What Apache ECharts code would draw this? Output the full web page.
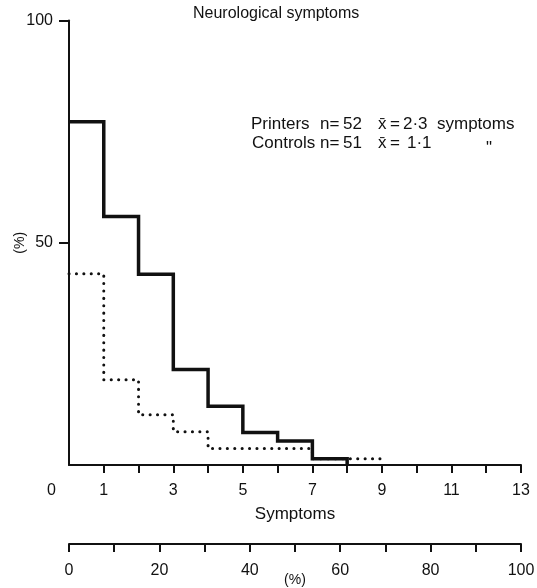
<!DOCTYPE html>
<html>
<head>
<meta charset="utf-8">
<script src="https://cdn.jsdelivr.net/npm/echarts@6/dist/echarts.min.js"></script>
<style>
html,body{margin:0;padding:0;background:#fff;}
#c{width:537px;height:588px;}
</style>
</head>
<body>
<div id="c"></div>
<script>
// ---- data ----
const titleText = 'Neurological symptoms';
const printersX = [0, 1, 2, 3, 4, 5, 6, 7, 8];
const printersY = [77.2, 55.9, 42.9, 21.5, 13.2, 7.3, 5.4, 1.4, 0];
const controlsX = [0, 1, 2, 3, 4, 7, 9];
const controlsY = [43.0, 19.2, 11.3, 7.5, 3.7, 1.4, 1.4];
const symptomTicks = [1,2,3,4,5,6,7,8,9,10,11,12,13];
const symptomLabels = [1,3,5,7,9,11,13];
const yTicks = [50, 100];
const pctTicks = [0,10,20,30,40,50,60,70,80,90,100];
const pctLabels = [0,20,40,60,80,100];
// legend tokens: [text, x] per row
const legendRow1 = [['Printers', 251], ['n=', 320], ['52', 343], ['x\u0304', 378], ['=', 390], ['2\u00B73', 403], ['symptoms', 437]];
const legendRow2 = [['Controls', 252], ['n=', 320], ['51', 343], ['x\u0304', 378], ['=', 390], ['1\u00B71', 407], ['"', 486]];

const FONT = 'Liberation Sans';
const INK = '#111';

const chart = echarts.init(document.getElementById('c'), null, {renderer: 'canvas'});
const axisText = {color: INK, fontFamily: FONT, fontSize: 16};
const f17 = '17px "' + FONT + '"';

const graphics = [
  {type: 'text', left: 193, top: 6, style: {text: titleText, fill: INK, font: '16px "' + FONT + '"'}},
  {type: 'text', left: 47, top: 483, style: {text: '0', fill: INK, font: '16px "' + FONT + '"'}}
];
legendRow1.forEach(t => graphics.push({type: 'text', left: t[1], top: 116, style: {text: t[0], fill: INK, font: f17}}));
legendRow2.forEach(t => graphics.push({type: 'text', left: t[1], top: t[0] === '"' ? 140 : 135, style: {text: t[0], fill: INK, font: f17}}));

chart.setOption({
  animation: false,
  backgroundColor: '#fff',
  grid: {left: 69, right: 16, top: 20.5, bottom: 123, containLabel: false, outerBoundsMode: 'none'},
  xAxis: [{
    type: 'value', min: 0, max: 13, interval: 1,
    axisLine: {show: true, lineStyle: {color: INK, width: 2}},
    axisTick: {show: true, length: 8, lineStyle: {color: INK, width: 2}, customValues: symptomTicks},
    axisLabel: Object.assign({margin: 18, customValues: symptomLabels}, axisText),
    splitLine: {show: false},
    name: 'Symptoms', nameLocation: 'middle', nameGap: 41, nameMoveOverlap: false,
    nameTextStyle: {color: INK, fontFamily: FONT, fontSize: 17}
  }, {
    type: 'value', min: 0, max: 100, interval: 10, position: 'bottom', offset: 79,
    axisLine: {show: true, lineStyle: {color: INK, width: 2}},
    axisTick: {show: true, length: 8, lineStyle: {color: INK, width: 2}, customValues: pctTicks},
    axisLabel: Object.assign({margin: 19, customValues: pctLabels}, axisText),
    splitLine: {show: false},
    name: '(%)', nameLocation: 'middle', nameGap: 29, nameMoveOverlap: false,
    nameTextStyle: {color: INK, fontFamily: FONT, fontSize: 14}
  }],
  yAxis: {
    type: 'value', min: 0, max: 100, interval: 50,
    axisLine: {show: true, lineStyle: {color: INK, width: 2}},
    axisTick: {show: true, length: 10, lineStyle: {color: INK, width: 2}, customValues: yTicks},
    axisLabel: Object.assign({margin: 16, customValues: yTicks}, axisText),
    splitLine: {show: false},
    name: '(%)', nameLocation: 'middle', nameGap: 42, nameRotate: 90, nameMoveOverlap: false,
    nameTextStyle: {color: INK, fontFamily: FONT, fontSize: 14}
  },
  graphic: graphics,
  series: [{
    name: 'Printers', type: 'line', step: 'end', xAxisIndex: 0,
    data: printersX.map((x, i) => [x, printersY[i]]),
    showSymbol: false, symbol: 'none',
    lineStyle: {color: INK, width: 3.5, join: 'miter'}
  }, {
    name: 'Controls', type: 'line', step: 'end', xAxisIndex: 0,
    data: controlsX.map((x, i) => [x, controlsY[i]]),
    showSymbol: false, symbol: 'none',
    lineStyle: {color: INK, width: 3, type: [0.1, 7.3], cap: 'round'}
  }]
});
</script>
</body>
</html>
